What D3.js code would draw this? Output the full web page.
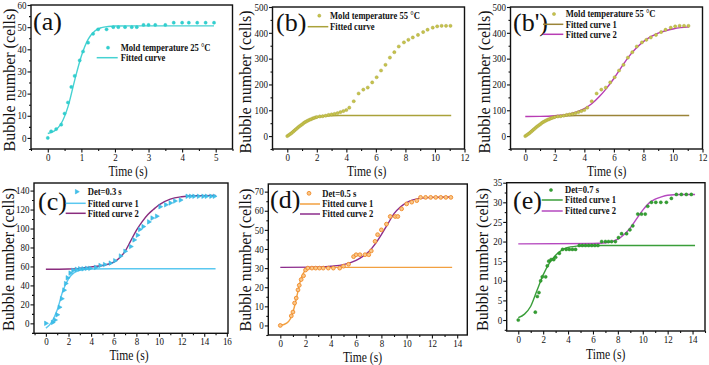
<!DOCTYPE html>
<html><head><meta charset="utf-8">
<script src="https://cdn.jsdelivr.net/npm/d3@7"></script>
<style>body{margin:0;background:#fff}svg{display:block}text{font-family:"Liberation Serif","Times New Roman",serif;fill:#111}</style>
</head><body><svg id="chart" width="709" height="365"></svg>
<script>
// ---------- DATA ----------
// (a) Mold temperature 25 °C
const aTime  = [0,0.1,0.25,0.4,0.5,0.6,0.7,0.8,0.95,1.05,1.2,1.35,1.5,1.75,1.95,2.1,2.3,2.5,2.65,2.85,3.0,3.2,3.5,3.75,4.0,4.2,4.45,4.7,4.95];
const aCount = [0,3,4,6,11,16,23,28,35,39,43,47,49,49,50,50,50,50,50,51,51,51,51,52,52,52,52,52,52];
const aFitTime  = [0,0.2,0.4,0.6,0.8,1.0,1.2,1.4,1.6,1.8,2.0,2.5,3,4,4.95];
const aFitCount = [2,3.2,6.5,14,26,37,44.5,48.3,49.8,50.3,50.5,50.6,50.6,50.6,50.6];

// (b) and (b') Mold temperature 55 °C
const bTime  = [0,0.1,0.2,0.3,0.4,0.5,0.6,0.7,0.8,0.9,1.0,1.1,1.2,1.3,1.4,1.5,1.6,1.7,1.8,1.9,2.0,
                2.2,2.4,2.6,2.8,3.0,3.2,3.4,3.6,3.8,4.0,
                4.2,4.5,4.83,5.15,5.45,5.75,6.05,6.35,6.65,6.95,7.25,7.55,7.9,8.2,8.5,8.85,9.2,9.5,9.85,10.15,10.45,10.75,11.05];
const bCount = [0,4,8,12,17,22,27,32,37,41,45,50,54,57,60,63,65,68,70,72,74,
                76,77,79,82,84,86,89,93,97,101,
                110,135,165,180,188,208,228,254,276,304,325,347,363,373,382,392,403,412,420,425,427,427,427];
const bFitTime  = [0,0.5,1,1.5,2,2.5,3,3.5,4,11.1];
const bFitCount = [0,25,47,62,72,77,79,80,80,80];
const bpFit2Time  = [0,1,2,3,3.5,4,4.5,5,5.5,6,6.5,7,7.5,8,8.5,9,9.5,10,10.5,11.1];
const bpFit2Count = [76,76.5,79,86,94,106,125,152,185,223,266,307,340,366,385,399,408,415,420,423];

// (c) Det = 0.3 s
const cTime  = [0,0.6,0.8,1.0,1.2,1.4,1.6,1.75,1.9,2.15,2.4,2.7,3.0,3.3,3.6,3.9,4.4,4.8,5.2,5.7,6.1,6.6,7.0,7.5,7.8,8.1,8.3,8.6,9.1,9.4,9.8,10.1,10.6,11.0,11.4,11.9,12.5,12.8,13.1,13.5,13.9,14.2,14.6,14.9];
const cCount = [0,1,3.5,9,17,26,35,42,48,53,56,57,57.5,57.5,58,58,59,61,62,63.5,66,71,76,81,88,93,99,102,107,111,113,123,125,127,129,130,134,134,134,134,134,134,134,134];
const cFit1Time  = [0,0.5,1,1.5,2,2.5,3,3.5,4,6,15];
const cFit1Count = [-5,1,14,34,47,53.5,56,57,57.3,57.5,57.5];
const cFit2Time  = [0,2,3,4,5,6,6.5,7,7.5,8,8.5,9,9.5,10,11,12,13,15];
const cFit2Count = [57,57.3,58,59.5,61,64.5,69,76,87,98,107,114.5,120,125,131,133.5,134.5,135];

// (d) Det = 0.5 s
const dTime  = [0,0.87,1.0,1.13,1.26,1.4,1.5,1.65,1.84,2.0,2.18,2.5,2.8,3.1,3.4,3.8,4.2,4.7,5.0,5.4,5.8,6.0,6.3,6.7,7.0,7.2,7.5,7.7,8.0,8.4,8.7,9.1,9.3,9.6,10.0,10.4,10.8,11.1,11.5,11.9,12.3,12.7,13.1,13.5];
const dCount = [0,5,7,11.7,14.3,18.6,21,24,26,29,30,30,30,30,30,30,30,30,31,32,36,37,37,37,37,39,44,47.5,50,53,57,57,57,61,63.6,64.5,65.3,67,67,67,67,67,67,67];
const dFit1Time  = [0,0.5,0.8,1.0,1.2,1.4,1.6,1.8,2.0,2.3,2.7,3.5,13.6];
const dFit1Count = [0,1.2,3.5,7,12,18,23.5,27,29,30,30.3,30.4,30.4];
const dFit2Time  = [0,3,4,5,6,6.5,7,7.5,8,8.5,9,9.5,10,10.5,11,12,13.6];
const dFit2Count = [30.4,30.5,31,31.8,34,36,38.5,42.5,47.5,53,58.5,62,64.3,65.7,66.5,67,67.2];

// (e) Det = 0.7 s
const eTime  = [0,1.37,1.53,1.66,1.8,1.93,2.2,2.33,2.45,2.64,2.85,3.0,3.3,3.56,3.85,4.1,4.35,4.6,4.9,5.15,5.4,5.65,5.9,6.15,6.4,6.7,7.0,7.25,7.5,7.8,8.05,8.3,8.7,8.97,9.2,9.6,9.9,10.2,10.4,10.7,11.05,11.45,11.9,12.3,12.7,13.1,13.5,13.9];
const eCount = [0,2,6,7,10,11,11,13.8,15,15.4,15.4,16,17,18,18,18,18,18,19,19,19,19,19,19,19,20,20,20,20,20,21,22,22,23,24,27,27,27,29,30,30,30,30,31,32,32,32,32];
const eFit1Time  = [0,0.5,1,1.5,2,2.5,3,3.5,4,5,6,14.2];
const eFit1Count = [0.6,1.5,3.5,7.5,11.5,14.5,16.5,17.8,18.5,18.9,19,19];
const eFit2Time  = [0,6,7,7.5,8,8.5,9,9.5,10,10.5,11,11.5,12,13,14.2];
const eFit2Count = [19.4,19.5,19.7,20,20.6,21.8,23.5,25.8,28,29.8,30.8,31.4,31.8,32,32];

// tick labels
const aXTicks = [0,1,2,3,4,5],  aYTicks = [0,10,20,30,40,50,60];
const bXTicks = [0,2,4,6,8,10,12], bYTicks = [0,100,200,300,400,500];
const cXTicks = [0,2,4,6,8,10,12,14,16], cYTicks = [0,20,40,60,80,100,120,140];
const dXTicks = [0,2,4,6,8,10,12,14], dYTicks = [0,10,20,30,40,50,60,70];
const eXTicks = [0,2,4,6,8,10,12,14], eYTicks = [0,5,10,15,20,25,30,35];

const labels = ["(a)","(b)","(b')","(c)","(d)","(e)"];
const legendTexts = {
  a: ["Mold temperature 25 \u00B0C","Fitted curve"],
  b: ["Mold temperature 55 \u00B0C","Fitted curve"],
  bp:["Mold temperature 55 \u00B0C","Fitted curve 1","Fitted curve 2"],
  c: ["Det=0.3 s","Fitted curve 1","Fitted curve 2"],
  d: ["Det=0.5 s","Fitted curve 1","Fitted curve 2"],
  e: ["Det=0.7 s","Fitted curve 1","Fitted curve 2"]
};
const xTitle = "Time (s)", yTitle = "Bubble number (cells)";

// ---------- LAYOUT / STYLE ----------
const svg = d3.select("#chart");
const olivePt = {fill:"#c6c34c", stroke:"#a4a036"};
const panels = [
  {l:31,t:5,r:232.5,b:149,xd:[-0.5,5.5],yd:[-5,60],xt:aXTicks,yt:aYTicks,lab:labels[0],labX:33,labY:30,
   pts:{x:aTime,y:aCount,shape:"circle",fill:"#2fd0d0",stroke:"#2fc6c6"},
   fits:[{x:aFitTime,y:aFitCount,c:"#46d2d2"}],
   leg:{mx:108,my:47.7,tx:120.7,lx1:96.7,lx2:117.7,ly:[57.7],texts:legendTexts.a},
   yt_x:15,yt_y:80,xt_x:128,xt_y:176},
  {l:272.5,t:7,r:464.5,b:149,xd:[-1,12],yd:[-50,500],xt:bXTicks,yt:bYTicks,lab:labels[1],labX:276,labY:31,
   pts:{x:bTime,y:bCount,shape:"circle",fill:olivePt.fill,stroke:olivePt.stroke},
   fits:[{x:bFitTime,y:bFitCount,c:"#aaa23a"}],
   leg:{mx:319.3,my:15.7,tx:330,lx1:307.7,lx2:328.3,ly:[26.7],texts:legendTexts.b},
   yt_x:251,yt_y:82,xt_x:366.7,xt_y:176},
  {l:510.5,t:7,r:702.5,b:149,xd:[-1,12],yd:[-50,500],xt:bXTicks,yt:bYTicks,lab:labels[2],labX:513,labY:31,
   pts:{x:bTime,y:bCount,shape:"circle",fill:olivePt.fill,stroke:olivePt.stroke},
   fits:[{x:bFitTime,y:bFitCount,c:"#9b8438"},{x:bpFit2Time,y:bpFit2Count,c:"#b83cb4"}],
   leg:{mx:554,my:14,tx:565.7,lx1:543,lx2:563.3,ly:[24.3,34.3],texts:legendTexts.bp},
   yt_x:490,yt_y:82,xt_x:606.7,xt_y:176},
  {l:34,t:183,r:228,b:333.3,xd:[-1.05,16.1],yd:[-10.5,148],xt:cXTicks,yt:cYTicks,lab:labels[3],labX:38,labY:210,
   pts:{x:cTime,y:cCount,shape:"tri",fill:"#3fc0ea",stroke:"#2fb0de"},
   fits:[{x:cFit1Time,y:cFit1Count,c:"#5ac8f0"},{x:cFit2Time,y:cFit2Count,c:"#8a2c7e"}],
   leg:{mx:76.7,my:191.7,tx:87.7,lx1:65.7,lx2:85.7,ly:[203.3,213.3],texts:legendTexts.c},
   yt_x:13.5,yt_y:259.5,xt_x:129,xt_y:359.5},
  {l:268.3,t:184,r:467.3,b:335,xd:[-0.95,14.8],yd:[-5,74],xt:dXTicks,yt:dYTicks,lab:labels[4],labX:270,labY:208,
   pts:{x:dTime,y:dCount,shape:"ring",fill:"#f9c789",stroke:"#f08a28"},
   fits:[{x:dFit1Time,y:dFit1Count,c:"#f2a040"},{x:dFit2Time,y:dFit2Count,c:"#8c2c8c"}],
   leg:{mx:309,my:193.3,tx:322.3,lx1:300,lx2:320,ly:[204,214],texts:legendTexts.d},
   yt_x:251,yt_y:260,xt_x:362.5,xt_y:361.5},
  {l:506.7,t:182.7,r:705,b:331,xd:[-0.93,15],yd:[-2.8,35],xt:eXTicks,yt:eYTicks,lab:labels[5],labX:513,labY:209,
   pts:{x:eTime,y:eCount,shape:"circle",fill:"#34a034",stroke:"#23861f"},
   fits:[{x:eFit1Time,y:eFit1Count,c:"#3a9e3a"},{x:eFit2Time,y:eFit2Count,c:"#b548bf"}],
   leg:{mx:551,my:190,tx:565,lx1:541.7,lx2:562.7,ly:[200,211],texts:legendTexts.e},
   yt_x:487.7,yt_y:259.5,xt_x:605.7,xt_y:359}
];

function minorOf(ticks, dom){
  const s = ticks[1]-ticks[0];
  const m = ticks.map(v=>v+s/2); m.unshift(ticks[0]-s/2);
  return m.filter(v=>v>=Math.min(...dom)-1e-9 && v<=Math.max(...dom)+1e-9);
}
function marker(g, shape, cx, cy, st){
  if(shape==="tri"){
    g.append("path").attr("d", d3.symbol(d3.symbolTriangle, 9)())
     .attr("transform",`translate(${cx},${cy}) rotate(90)`)
     .attr("fill", st.fill).attr("stroke", st.stroke).attr("stroke-width",0.5);
  } else if(shape==="ring"){
    g.append("circle").attr("cx",cx).attr("cy",cy).attr("r",1.9)
     .attr("fill",st.fill).attr("stroke",st.stroke).attr("stroke-width",0.9);
  } else {
    g.append("circle").attr("cx",cx).attr("cy",cy).attr("r",1.6)
     .attr("fill",st.fill).attr("stroke",st.stroke).attr("stroke-width",0.4);
  }
}

panels.forEach(p=>{
  const x = d3.scaleLinear().domain(p.xd).range([p.l,p.r]);
  const y = d3.scaleLinear().domain(p.yd).range([p.b,p.t]);
  const g = svg.append("g");

  // axes (major + minor), outward ticks
  const xa = g.append("g").attr("transform",`translate(0,${p.b})`)
    .call(d3.axisBottom(x).tickValues(p.xt).tickSize(3.5).tickPadding(1.5).tickFormat(d3.format("d")));
  g.append("g").attr("transform",`translate(0,${p.b})`)
    .call(d3.axisBottom(x).tickValues(minorOf(p.xt,p.xd)).tickSize(2).tickFormat(""));
  const ya = g.append("g").attr("transform",`translate(${p.l},0)`)
    .call(d3.axisLeft(y).tickValues(p.yt).tickSize(3.5).tickPadding(1.5).tickFormat(d3.format("d")));
  g.append("g").attr("transform",`translate(${p.l},0)`)
    .call(d3.axisLeft(y).tickValues(minorOf(p.yt,p.yd)).tickSize(2).tickFormat(""));
  g.selectAll(".domain").remove();
  g.selectAll(".tick line").attr("stroke","#111").attr("stroke-width",1.1);
  [xa,ya].forEach(a=>a.selectAll("text").attr("font-size",10).attr("fill","#222")
     .style("font-family",'"Liberation Serif",serif').attr("transform","scale(0.9,1)"));

  // fitted curves
  p.fits.forEach(f=>{
    g.append("path").datum(d3.zip(f.x,f.y))
     .attr("d", d3.line().x(d=>x(d[0])).y(d=>y(d[1])).curve(d3.curveMonotoneX))
     .attr("fill","none").attr("stroke",f.c).attr("stroke-width",1.4);
  });
  // points
  const pg = g.append("g");
  p.pts.x.forEach((tv,i)=> marker(pg, p.pts.shape, x(tv), y(p.pts.y[i]), p.pts));

  // frame
  g.append("rect").attr("x",p.l).attr("y",p.t).attr("width",p.r-p.l).attr("height",p.b-p.t)
   .attr("fill","none").attr("stroke","#111").attr("stroke-width",1.4);

  // panel label
  g.append("text").attr("x",p.labX).attr("y",p.labY).attr("font-size",26).text(p.lab);

  // legend
  const L = p.leg;
  marker(g, p.pts.shape, L.mx, L.my, p.pts);
  const legText = (tx,ty,s)=> g.append("text").attr("transform",`translate(${tx},${ty+3.4}) scale(0.86,1)`)
       .attr("font-size",10).attr("font-weight","bold").text(s);
  legText(L.tx, L.my, L.texts[0]);
  L.ly.forEach((ly,i)=>{
    g.append("line").attr("x1",L.lx1).attr("x2",L.lx2).attr("y1",ly).attr("y2",ly)
     .attr("stroke",p.fits[i].c).attr("stroke-width",1.5);
    legText(L.tx, ly, L.texts[i+1]);
  });

  // axis titles
  g.append("text").attr("transform",`translate(${p.yt_x},${p.yt_y}) rotate(-90)`)
   .attr("text-anchor","middle").attr("font-size",16).text(yTitle);
  g.append("text").attr("transform",`translate(${p.xt_x},${p.xt_y}) scale(0.8,1)`)
   .attr("text-anchor","middle").attr("font-size",14.5).text(xTitle);
});
</script></body></html>
